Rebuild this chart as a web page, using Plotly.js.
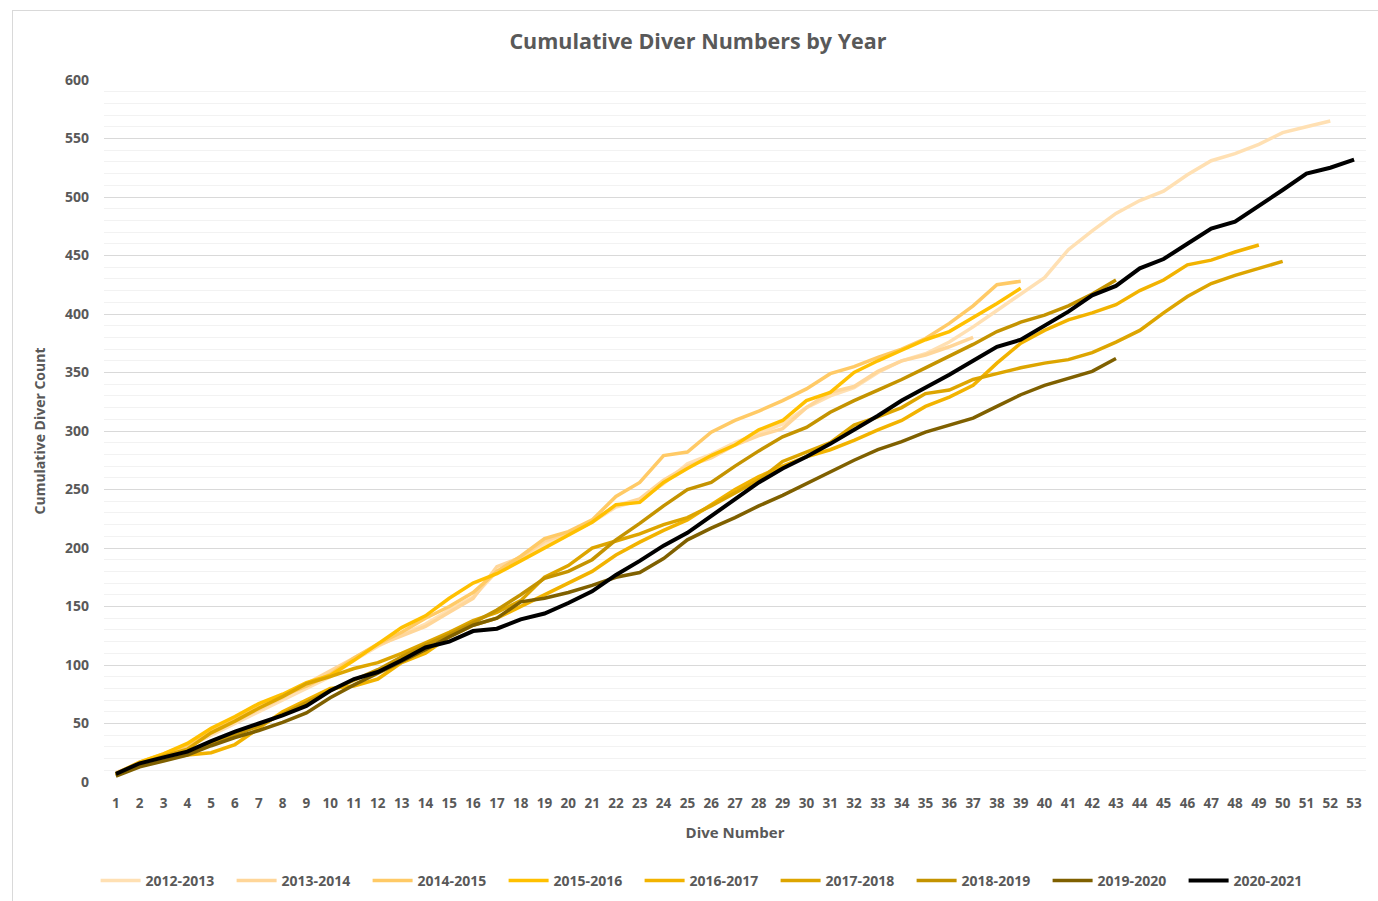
<!DOCTYPE html>
<html>
<head>
<meta charset="utf-8">
<script src="https://cdn.plot.ly/plotly-3.0.1.min.js"></script>
<style>
  html, body { margin: 0; padding: 0; background: #ffffff; }
  #wrap { position: relative; width: 1378px; height: 901px; overflow: hidden; }
  #chart { width: 1378px; height: 901px; }
  #frame { position: absolute; left: 12px; top: 10px; width: 1380px; height: 900px;
           border: 1px solid #d9d9d9; pointer-events: none; box-sizing: border-box; }
</style>
</head>
<body>
<div id="wrap"><div id="chart"></div><div id="frame"></div></div>
<script>
// ---- data ----
const diveNumbers = Array.from({length: 53}, (_, i) => i + 1);

const seriesNames = ["2012-2013", "2013-2014", "2014-2015", "2015-2016", "2016-2017",
                     "2017-2018", "2018-2019", "2019-2020", "2020-2021"];
const seriesColors = ["#FFE0B3", "#FFD699", "#FFCA66", "#FFC000", "#F2B300",
                      "#DDA500", "#C49300", "#7F6000", "#000000"];

const y2012_2013 = [7, 15, 22, 30, 40, 50, 60, 70, 80, 90, 104, 116, 126, 135, 147, 158, 180, 190, 203, 212,
  222, 235, 241, 255, 272, 280, 290, 298, 306, 320, 330, 337, 350, 360, 366, 376, 389, 403, 417, 431,
  455, 471, 486, 497, 505, 519, 531, 537, 545, 555, 560, 565];
const y2013_2014 = [8, 16, 23, 31, 42, 52, 62, 72, 84, 95, 106, 117, 125, 133, 145, 157, 184, 192, 206, 213,
  223, 236, 242, 258, 270, 277, 288, 296, 302, 320, 333, 338, 351, 360, 365, 372, 380];
const y2014_2015 = [7, 17, 24, 32, 44, 55, 65, 74, 82, 92, 106, 118, 128, 140, 150, 162, 180, 193, 208, 214,
  224, 244, 256, 279, 282, 299, 309, 317, 326, 336, 349, 355, 363, 370, 379, 392, 407, 425, 428];
const y2015_2016 = [7, 17, 24, 33, 46, 56, 67, 75, 85, 91, 104, 118, 132, 142, 157, 170, 178, 189, 200, 211,
  222, 237, 239, 256, 268, 279, 288, 301, 309, 326, 333, 350, 360, 369, 378, 385, 397, 409, 422];
const y2016_2017 = [6, 15, 20, 23, 25, 32, 46, 60, 70, 80, 82, 88, 102, 110, 124, 134, 140, 150, 160, 170,
  180, 194, 205, 215, 224, 237, 250, 261, 270, 278, 284, 292, 301, 309, 321, 329, 339, 358, 375, 386,
  395, 401, 408, 420, 429, 442, 446, 453, 459];
const y2017_2018 = [6, 15, 22, 28, 42, 52, 63, 73, 84, 90, 97, 102, 110, 119, 128, 138, 145, 155, 175, 185,
  200, 206, 212, 220, 226, 236, 247, 258, 274, 282, 290, 305, 312, 320, 332, 335, 344, 349, 354, 358,
  361, 367, 376, 386, 401, 415, 426, 433, 439, 445];
const y2018_2019 = [6, 14, 20, 25, 33, 40, 48, 58, 68, 78, 87, 96, 107, 117, 126, 136, 147, 160, 174, 180,
  190, 207, 221, 236, 250, 256, 270, 283, 295, 303, 316, 326, 335, 344, 354, 364, 374, 385, 393, 399,
  407, 417, 429];
const y2019_2020 = [5, 13, 18, 23, 31, 38, 44, 51, 59, 72, 83, 93, 103, 113, 124, 134, 140, 154, 157, 162,
  168, 175, 179, 191, 207, 217, 226, 236, 245, 255, 265, 275, 284, 291, 299, 305, 311, 321, 331, 339,
  345, 351, 362];
const y2020_2021 = [7, 16, 21, 26, 35, 43, 50, 57, 65, 78, 88, 94, 104, 115, 120, 129, 131, 139, 144, 153,
  163, 177, 189, 202, 213, 227, 242, 256, 268, 278, 289, 301, 313, 326, 337, 348, 360, 372, 378, 390,
  402, 416, 424, 439, 447, 460, 473, 479, 492, 506, 520, 525, 532];

const allSeries = [y2012_2013, y2013_2014, y2014_2015, y2015_2016, y2016_2017,
                   y2017_2018, y2018_2019, y2019_2020, y2020_2021];

const yTickVals = [0, 50, 100, 150, 200, 250, 300, 350, 400, 450, 500, 550, 600];

// ---- chart ----
const FONT = "'Open Sans', 'Noto Sans', sans-serif";
const GREY = "#595959";

const traces = allSeries.map((ys, k) => ({
  type: "scatter",
  mode: "lines",
  name: seriesNames[k],
  x: diveNumbers.slice(0, ys.length),
  y: ys,
  line: { color: seriesColors[k], width: k === 8 ? 4 : 3.5 },
  hoverinfo: "x+y+name"
}));

const layout = {
  width: 1378,
  height: 901,
  paper_bgcolor: "#ffffff",
  plot_bgcolor: "#ffffff",
  margin: { l: 104, r: 12, t: 80, b: 119 },
  showlegend: true,
  title: {
    text: "Cumulative Diver Numbers by Year",
    font: { family: FONT, size: 21.5, color: GREY, weight: 700 },
    xref: "container", x: 0.5065, xanchor: "center",
    yref: "container", y: 0.9545, yanchor: "middle"
  },
  xaxis: {
    range: [0.5, 53.5],
    tickmode: "array",
    tickvals: diveNumbers,
    ticktext: diveNumbers.map(String),
    showgrid: false,
    zeroline: false,
    showline: false,
    ticks: "",
    ticklabelstandoff: 11,
    tickfont: { family: FONT, size: 13.5, color: GREY, weight: 700 },
    title: { text: "Dive Number", font: { family: FONT, size: 15, color: GREY, weight: 700 }, standoff: 16 },
    fixedrange: true
  },
  yaxis: {
    range: [0, 600],
    tickmode: "array",
    tickvals: yTickVals,
    showgrid: true,
    gridcolor: "#d9d9d9",
    gridwidth: 1.3,
    zeroline: false,
    showline: false,
    ticks: "",
    ticklabelstandoff: 14,
    tickfont: { family: FONT, size: 14, color: GREY, weight: 700 },
    minor: { dtick: 10, tick0: 0, showgrid: true, gridcolor: "#f2f2f2", gridwidth: 1.3, ticks: "" },
    title: { text: "Cumulative Diver Count", font: { family: FONT, size: 14, color: GREY, weight: 700 }, standoff: 16 },
    fixedrange: true
  },
  legend: {
    orientation: "h",
    xref: "container", x: 0.5135, xanchor: "center",
    yref: "container", y: 1 - 881 / 901, yanchor: "middle",
    font: { family: FONT, size: 14, color: GREY, weight: 700 },
    traceorder: "normal",
    itemwidth: 40,
    entrywidth: 81,
    entrywidthmode: "pixels"
  }
};

Plotly.newPlot("chart", traces, layout, { displayModeBar: false, staticPlot: false });
</script>
</body>
</html>
